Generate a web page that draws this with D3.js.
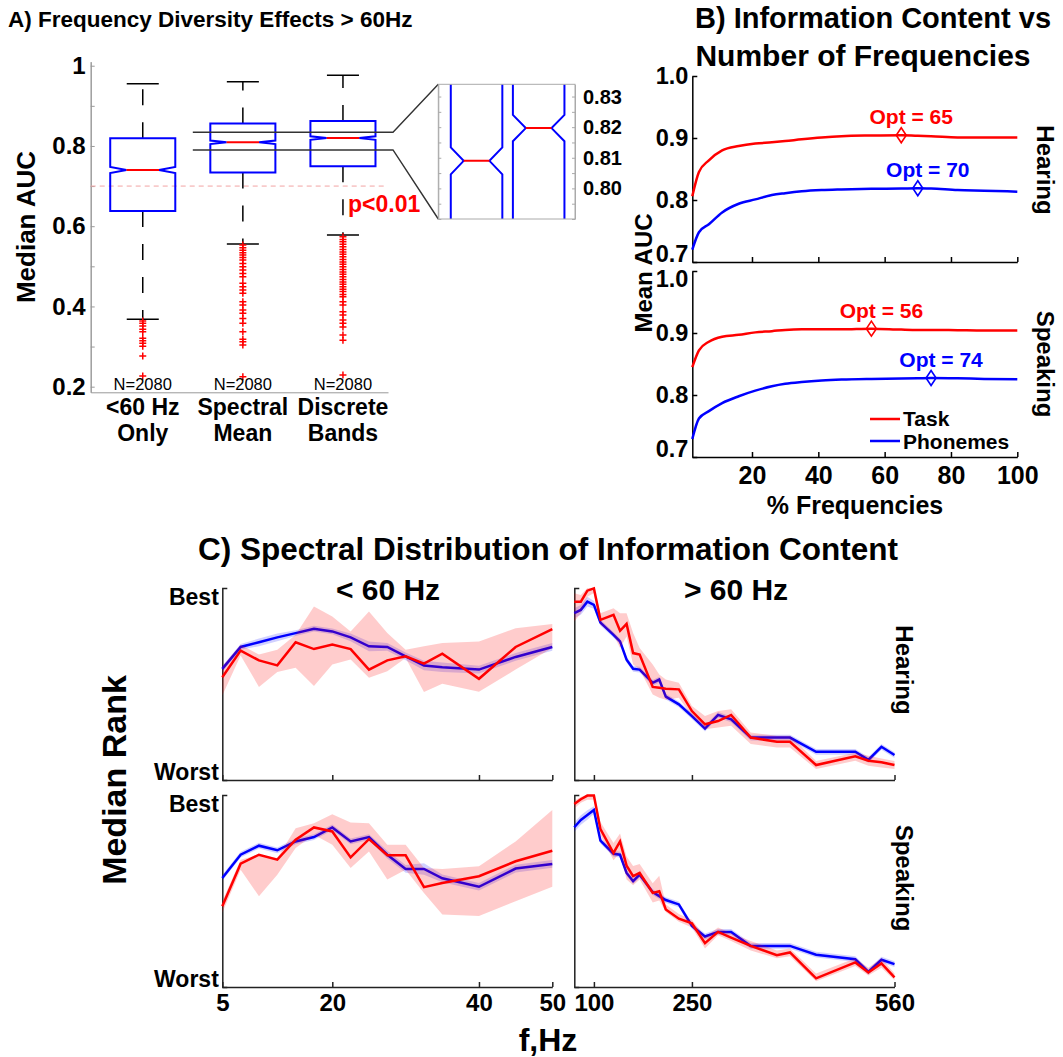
<!DOCTYPE html>
<html>
<head>
<meta charset="utf-8">
<script src="https://cdn.jsdelivr.net/npm/d3@7"></script>
<style>
  body { margin: 0; background: #fff; }
  svg { display: block; }
  text { font-family: "Liberation Sans", Arial, Helvetica, sans-serif; font-weight: bold; fill: #000; }
</style>
</head>
<body>
<svg id="fig" width="1063" height="1057"></svg>
<script>
// ---------------- Panel A: box plots of median AUC ----------------
const boxCategories = [["<60 Hz", "Only"], ["Spectral", "Mean"], ["Discrete", "Bands"]];
const boxCounts = [2080, 2080, 2080];
const boxUpperWhisker = [0.955, 0.960, 0.976];
const boxQ3 = [0.819, 0.856, 0.8625];
const boxMedian = [0.740, 0.809, 0.8197];
const boxQ1 = [0.6376, 0.734, 0.7497];
const boxLowerWhisker = [0.368, 0.5554, 0.578];
const boxNotch = [0.0075, 0.0044, 0.0043];
const outliersLow = [0.364, 0.358, 0.351, 0.343, 0.337, 0.3205, 0.3146, 0.308, 0.301, 0.2765, 0.2267];
const outliersSpectral = [0.553, 0.546, 0.540, 0.534, 0.528, 0.522, 0.5156, 0.507, 0.499, 0.4907, 0.4824, 0.474,
  0.4575, 0.449, 0.441, 0.4326, 0.4117, 0.4035, 0.391, 0.3828, 0.370, 0.358, 0.337, 0.318, 0.312, 0.3037, 0.225];
const outliersBands = [0.5736, 0.567, 0.561, 0.555, 0.549, 0.542, 0.536, 0.530, 0.524, 0.517, 0.511, 0.505, 0.499,
  0.492, 0.486, 0.480, 0.474, 0.467, 0.461, 0.455, 0.449, 0.443, 0.437, 0.430, 0.424, 0.412, 0.4035, 0.387,
  0.3786, 0.366, 0.358, 0.349, 0.329, 0.316, 0.229];
const aucTicks = [0.2, 0.4, 0.6, 0.8, 1.0];
const aucMinorTicks = [0.3, 0.5, 0.7, 0.9];
const chanceAUC = 0.7;
const zoomRange = [0.79, 0.834];
const zoomTickLabels = [0.80, 0.81, 0.82, 0.83];
const sigText = "p<0.01";

// ---------------- Panel B: information content vs % frequencies ----------------
const pct = [2, 4, 7, 11, 16, 21, 26, 30, 35, 41, 47, 56, 65, 70, 74, 82, 90, 100];
const hearTask = [0.806, 0.845, 0.864, 0.880, 0.887, 0.891, 0.893, 0.895, 0.898, 0.901, 0.903, 0.904, 0.9045, 0.9035, 0.903, 0.901, 0.901, 0.901];
const hearPhon = [0.720, 0.748, 0.761, 0.780, 0.794, 0.801, 0.808, 0.811, 0.814, 0.816, 0.817, 0.818, 0.8185, 0.819, 0.8185, 0.816, 0.815, 0.8135];
const speakTask = [0.845, 0.872, 0.886, 0.894, 0.897, 0.901, 0.903, 0.905, 0.906, 0.906, 0.906, 0.907, 0.9055, 0.905, 0.905, 0.9045, 0.904, 0.904];
const speakPhon = [0.729, 0.762, 0.774, 0.787, 0.798, 0.807, 0.814, 0.818, 0.821, 0.8235, 0.825, 0.826, 0.8265, 0.827, 0.8275, 0.827, 0.826, 0.8255];
const optHearing = [65, 70];
const optSpeaking = [56, 74];
const aucTicksB = [0.7, 0.8, 0.9, 1.0];
const pctTicks = [20, 40, 60, 80, 100];
const legendLabels = ["Task", "Phonemes"];

// ---------------- Panel C: spectral distribution of median rank ----------------
const freqLow = [5, 7.5, 10, 12.5, 15, 17.5, 20, 22.5, 25, 27.5, 30, 32.5, 35, 40, 45, 50];
const hearLowTask = [0.535, 0.674, 0.623, 0.597, 0.717, 0.682, 0.705, 0.682, 0.575, 0.623, 0.644, 0.606, 0.658, 0.527, 0.693, 0.786];
const hearLowTaskLo = [0.440, 0.648, 0.485, 0.563, 0.584, 0.489, 0.601, 0.627, 0.532, 0.566, 0.636, 0.458, 0.501, 0.459, 0.575, 0.687];
const hearLowTaskHi = [0.592, 0.705, 0.653, 0.679, 0.756, 0.903, 0.851, 0.774, 0.877, 0.765, 0.679, 0.696, 0.713, 0.722, 0.791, 0.813];
const hearLowPhon = [0.579, 0.693, 0.717, 0.743, 0.765, 0.788, 0.774, 0.743, 0.696, 0.693, 0.644, 0.596, 0.587, 0.575, 0.641, 0.693];
const hearLowPhonErr = [0.015, 0.015, 0.02, 0.02, 0.015, 0.015, 0.015, 0.02, 0.025, 0.02, 0.02, 0.025, 0.025, 0.02, 0.02, 0.02];
const speakLowTask = [0.421, 0.642, 0.689, 0.663, 0.767, 0.831, 0.810, 0.675, 0.770, 0.686, 0.686, 0.520, 0.542, 0.577, 0.655, 0.710];
const speakLowTaskLo = [0.387, 0.611, 0.473, 0.585, 0.724, 0.793, 0.741, 0.620, 0.706, 0.560, 0.611, 0.490, 0.378, 0.370, 0.447, 0.522];
const speakLowTaskHi = [0.447, 0.663, 0.689, 0.672, 0.827, 0.853, 0.900, 0.857, 0.853, 0.741, 0.741, 0.620, 0.615, 0.629, 0.758, 0.922];
const speakLowPhon = [0.568, 0.689, 0.736, 0.712, 0.758, 0.781, 0.831, 0.758, 0.781, 0.689, 0.615, 0.615, 0.566, 0.522, 0.617, 0.641];
const speakLowPhonErr = [0.015, 0.015, 0.015, 0.015, 0.015, 0.015, 0.015, 0.015, 0.015, 0.02, 0.02, 0.03, 0.02, 0.02, 0.02, 0.02];

const freqHigh = [70, 80, 90, 100, 110, 130, 140, 150, 160, 170, 190, 200, 210, 230, 250, 270, 290, 310, 340, 380, 400, 440, 500, 520, 540, 560];
const hearHighTask = [0.929, 0.929, 0.986, 0.998, 0.834, 0.860, 0.777, 0.813, 0.661, 0.653, 0.485, 0.480, 0.475, 0.472, 0.359, 0.290, 0.307, 0.339, 0.221, 0.199, 0.199, 0.078, 0.123, 0.100, 0.092, 0.078];
const hearHighTaskLo = [0.826, 0.869, 0.955, 0.974, 0.808, 0.756, 0.687, 0.748, 0.601, 0.575, 0.445, 0.428, 0.418, 0.428, 0.333, 0.264, 0.273, 0.282, 0.187, 0.169, 0.169, 0.057, 0.100, 0.074, 0.065, 0.057];
const hearHighTaskHi = [0.973, 0.964, 1.0, 1.0, 0.868, 0.895, 0.869, 0.869, 0.765, 0.687, 0.601, 0.549, 0.523, 0.506, 0.385, 0.333, 0.359, 0.368, 0.247, 0.230, 0.230, 0.099, 0.142, 0.126, 0.112, 0.099];
const hearHighPhon = [0.869, 0.886, 0.929, 0.912, 0.820, 0.756, 0.722, 0.627, 0.579, 0.575, 0.506, 0.523, 0.434, 0.394, 0.333, 0.268, 0.339, 0.316, 0.221, 0.221, 0.221, 0.147, 0.147, 0.105, 0.173, 0.130];
const hearHighPhonErr = [0.025, 0.025, 0.025, 0.02, 0.015, 0.015, 0.015, 0.015, 0.015, 0.015, 0.015, 0.015, 0.015, 0.015, 0.015, 0.015, 0.015, 0.015, 0.015, 0.015, 0.015, 0.015, 0.015, 0.015, 0.015, 0.015];
const speakHighTask = [0.953, 0.978, 0.997, 0.997, 0.822, 0.698, 0.758, 0.632, 0.577, 0.594, 0.490, 0.499, 0.404, 0.356, 0.332, 0.228, 0.287, 0.257, 0.214, 0.166, 0.180, 0.045, 0.128, 0.076, 0.123, 0.050];
const speakHighTaskLo = [0.93, 0.96, 0.975, 0.975, 0.79, 0.66, 0.70, 0.56, 0.53, 0.56, 0.44, 0.45, 0.39, 0.34, 0.31, 0.20, 0.27, 0.24, 0.19, 0.15, 0.16, 0.03, 0.11, 0.06, 0.10, 0.035];
const speakHighTaskHi = [0.97, 0.99, 1.0, 1.0, 0.86, 0.75, 0.80, 0.68, 0.63, 0.64, 0.54, 0.58, 0.43, 0.38, 0.35, 0.26, 0.31, 0.28, 0.24, 0.19, 0.20, 0.07, 0.15, 0.10, 0.15, 0.07];
const speakHighPhon = [0.832, 0.870, 0.896, 0.922, 0.762, 0.694, 0.689, 0.594, 0.551, 0.585, 0.494, 0.473, 0.453, 0.430, 0.318, 0.263, 0.287, 0.287, 0.214, 0.214, 0.214, 0.168, 0.145, 0.079, 0.142, 0.119];
const speakHighPhonErr = [0.025, 0.025, 0.025, 0.02, 0.015, 0.015, 0.015, 0.015, 0.015, 0.015, 0.015, 0.015, 0.015, 0.015, 0.015, 0.015, 0.015, 0.015, 0.015, 0.015, 0.015, 0.015, 0.015, 0.015, 0.015, 0.015];
const freqTicksLow = [5, 20, 40, 50];
const freqTicksHigh = [100, 250, 560];
const rankTickValues = [0.04, 0.95];
const rankTickLabels = ["Worst", "Best"];

// ---------------- drawing ----------------
const RED = "#ff0000", BLUE = "#0000ff";
const svg = d3.select("#fig");

function label(g, x, y, s, size, opt = {}) {
  const t = g.append("text").attr("x", x).attr("y", y).attr("font-size", size).text(s);
  if (opt.anchor) t.attr("text-anchor", opt.anchor);
  if (opt.fill) t.style("fill", opt.fill);
  if (opt.weight) t.style("font-weight", opt.weight);
  return t;
}
function rotLabel(g, cx, cy, angle, s, size) {
  return g.append("text").attr("transform", `translate(${cx},${cy}) rotate(${angle})`)
    .attr("text-anchor", "middle").attr("dy", "0.35em").attr("font-size", size).text(s);
}
function styleAxis(ax, color, width, size) {
  ax.select(".domain").attr("stroke", color).attr("stroke-width", width);
  ax.selectAll(".tick line").attr("stroke", color).attr("stroke-width", width);
  ax.selectAll(".tick text").attr("font-size", size).style("fill", "#000");
}

// ===== Panel A =====
const gA = svg.append("g");
const xA = d3.scaleLinear().domain([0.48, 3.45]).range([90.7, 388]);
const yA = d3.scaleLinear().domain([0.186, 1.01]).range([392.3, 61.7]);
const boxHalf = 0.325, capHalf = 0.16;
const outlierSets = [outliersLow, outliersSpectral, outliersBands];

label(gA, 8, 27, "A) Frequency Diversity Effects > 60Hz", 22.5);
rotLabel(gA, 26, 227, -90, "Median AUC", 26);

const axA = gA.append("g").attr("transform", `translate(${xA.range()[0]},0)`)
  .call(d3.axisLeft(yA).tickValues(aucTicks).tickFormat(d => d === 1 ? "1" : d.toFixed(1))
    .tickSizeInner(-4).tickSizeOuter(0).tickPadding(5));
styleAxis(axA, "#999", 1, 24);
const axAminor = gA.append("g").attr("transform", `translate(${xA.range()[0]},0)`)
  .call(d3.axisLeft(yA).tickValues(aucMinorTicks).tickFormat("").tickSizeInner(-4).tickSizeOuter(0));
styleAxis(axAminor, "#999", 1, 10);
const axAx = gA.append("g").attr("transform", `translate(0,${yA.range()[0]})`)
  .call(d3.axisBottom(xA).tickValues([]).tickSizeOuter(0));
styleAxis(axAx, "#999", 1, 10);

// chance-level reference
gA.append("line").attr("x1", xA.range()[0]).attr("x2", xA(3.42))
  .attr("y1", yA(chanceAUC)).attr("y2", yA(chanceAUC))
  .attr("stroke", "#f2a3a3").attr("stroke-width", 1).attr("stroke-dasharray", "5,4");

function boxPath(cx, w, q1, q3, med, n) {
  return `M${cx - w},${q3}L${cx + w},${q3}L${cx + w},${med - n}L${cx + w / 2},${med}L${cx + w},${med + n}` +
    `L${cx + w},${q1}L${cx - w},${q1}L${cx - w},${med + n}L${cx - w / 2},${med}L${cx - w},${med - n}Z`;
}
const plus = "M-3.5,0H3.5M0,-3.5V3.5";

boxCategories.forEach((cat, i) => {
  const pos = i + 1;
  const cx = xA(pos), w = xA(pos + boxHalf) - cx, cw = xA(pos + capHalf) - cx;
  // whiskers, dashed from the box outward
  gA.append("line").attr("x1", cx).attr("x2", cx).attr("y1", yA(boxQ3[i])).attr("y2", yA(boxUpperWhisker[i]))
    .attr("stroke", "#000").attr("stroke-width", 1.5).attr("stroke-dasharray", "16,17");
  gA.append("line").attr("x1", cx).attr("x2", cx).attr("y1", yA(boxQ1[i])).attr("y2", yA(boxLowerWhisker[i]))
    .attr("stroke", "#000").attr("stroke-width", 1.5).attr("stroke-dasharray", "16,17");
  [boxUpperWhisker[i], boxLowerWhisker[i]].forEach(v => {
    gA.append("line").attr("x1", cx - cw).attr("x2", cx + cw).attr("y1", yA(v)).attr("y2", yA(v))
      .attr("stroke", "#000").attr("stroke-width", 1.5);
  });
  gA.append("path").attr("d", boxPath(cx, w, yA(boxQ1[i]), yA(boxQ3[i]), yA(boxMedian[i]),
      yA(boxMedian[i] - boxNotch[i]) - yA(boxMedian[i])))
    .attr("fill", "none").attr("stroke", BLUE).attr("stroke-width", 2);
  gA.append("line").attr("x1", cx - w / 2).attr("x2", cx + w / 2).attr("y1", yA(boxMedian[i])).attr("y2", yA(boxMedian[i]))
    .attr("stroke", RED).attr("stroke-width", 2);
  gA.selectAll(null).data(outlierSets[i]).join("path")
    .attr("transform", d => `translate(${cx},${yA(d)})`).attr("d", plus)
    .attr("stroke", RED).attr("stroke-width", 1.5).attr("fill", "none");
  label(gA, cx, 390, "N=" + boxCounts[i], 16.5, { anchor: "middle", weight: "normal" });
  label(gA, cx, 415, cat[0], 23, { anchor: "middle" });
  label(gA, cx, 441, cat[1], 23, { anchor: "middle" });
});
label(gA, 348, 212, sigText, 23, { fill: RED });

// zoomed view of the two high-frequency medians
const xI = d3.scaleLinear().domain([1.384, 3.585]).range([438.3, 575]);
const yI = d3.scaleLinear().domain(zoomRange).range([219, 84.3]);
const insetHalf = 0.415;
svg.append("clipPath").attr("id", "insetClip").append("rect")
  .attr("x", xI.range()[0]).attr("y", yI.range()[1]).attr("width", xI.range()[1] - xI.range()[0]).attr("height", yI.range()[0] - yI.range()[1]);
const gI = gA.append("g");
[zoomRange[1], zoomRange[0]].forEach(v => {
  gI.append("path").attr("d", `M${xA(1.5)},${yA(v)}H${xA(3.5)}L${xI.range()[0]},${yI(v)}`)
    .attr("fill", "none").attr("stroke", "#333").attr("stroke-width", 1.4);
});
const gIc = gI.append("g").attr("clip-path", "url(#insetClip)");
boxCategories.forEach((cat, i) => {
  const pos = i + 1;
  if (pos - insetHalf < xI.domain()[0]) return;
  const cx = xI(pos), w = xI(pos + insetHalf) - cx;
  gIc.append("path").attr("d", boxPath(cx, w, yI(boxQ1[i]), yI(boxQ3[i]), yI(boxMedian[i]),
      yI(boxMedian[i] - boxNotch[i]) - yI(boxMedian[i])))
    .attr("fill", "none").attr("stroke", BLUE).attr("stroke-width", 2);
  gIc.append("line").attr("x1", cx - w / 2).attr("x2", cx + w / 2).attr("y1", yI(boxMedian[i])).attr("y2", yI(boxMedian[i]))
    .attr("stroke", RED).attr("stroke-width", 2);
});
const minorI = d3.range(0.790, 0.8341, 0.005);
const axIL = gI.append("g").attr("transform", `translate(${xI.range()[0]},0)`)
  .call(d3.axisLeft(yI).tickValues(minorI).tickFormat("").tickSizeInner(-3).tickSizeOuter(0));
styleAxis(axIL, "#aaa", 1, 10);
const axIR = gI.append("g").attr("transform", `translate(${xI.range()[1]},0)`)
  .call(d3.axisRight(yI).tickValues(minorI).tickFormat("").tickSizeInner(-3).tickSizeOuter(0));
styleAxis(axIR, "#aaa", 1, 10);
gI.append("rect").attr("x", xI.range()[0]).attr("y", yI.range()[1])
  .attr("width", xI.range()[1] - xI.range()[0]).attr("height", yI.range()[0] - yI.range()[1])
  .attr("fill", "none").attr("stroke", "#aaa").attr("stroke-width", 1);
zoomTickLabels.forEach(v => label(gI, 583, yI(v) + 7, v.toFixed(2), 20));

// ===== Panel B =====
const gB = svg.append("g");
label(gB, 873, 28, "B) Information Content vs", 29, { anchor: "middle" });
label(gB, 863, 66, "Number of Frequencies", 30, { anchor: "middle" });
rotLabel(gB, 644, 273, -90, "Mean AUC", 24);
label(gB, 855, 514, "% Frequencies", 25, { anchor: "middle" });

const xB = d3.scaleLinear().domain([2, 100]).range([692.3, 1017.3]);
const bRows = [
  { top: 76, bottom: 262, task: hearTask, phon: hearPhon, opt: optHearing, name: "Hearing", nameY: 170, showX: false },
  { top: 271, bottom: 457, task: speakTask, phon: speakPhon, opt: optSpeaking, name: "Speaking", nameY: 364, showX: true }
];
const diamond = "M0,-7.5L5,0L0,7.5L-5,0Z";
bRows.forEach((r, ri) => {
  const y = d3.scaleLinear().domain([0.7, 1.0]).range([r.bottom, r.top]);
  const ay = gB.append("g").attr("transform", `translate(${xB.range()[0]},0)`)
    .call(d3.axisLeft(y).tickValues(aucTicksB).tickFormat(d3.format(".1f")).tickSizeInner(-5).tickSizeOuter(0).tickPadding(4));
  styleAxis(ay, "#000", 1.5, 23.5);
  // edge labels nudged inward so the stacked axes do not collide
  ay.selectAll(".tick text").attr("transform", d =>
    d === 0.7 ? "translate(0,-8)" : (d === 1.0 && ri > 0 ? "translate(0,8)" : null));
  const ax = gB.append("g").attr("transform", `translate(0,${r.bottom})`)
    .call(d3.axisBottom(xB).tickValues(pctTicks).tickFormat(r.showX ? d3.format("d") : () => "")
      .tickSizeInner(-5).tickSizeOuter(0).tickPadding(9));
  styleAxis(ax, "#000", 1.5, 25);
  const line = d3.line().x((d, i) => xB(pct[i])).y(d => y(d)).curve(d3.curveMonotoneX);
  [[r.task, RED, r.opt[0]], [r.phon, BLUE, r.opt[1]]].forEach(([vals, col, opt]) => {
    gB.append("path").attr("d", line(vals)).attr("fill", "none").attr("stroke", col).attr("stroke-width", 2.5);
    const v = vals[pct.indexOf(opt)];
    gB.append("path").attr("d", diamond).attr("transform", `translate(${xB(opt)},${y(v)})`)
      .attr("fill", "none").attr("stroke", col).attr("stroke-width", 1.6);
    label(gB, xB(opt) + 10, y(v) - 11, `Opt = ${opt}`, 21, { anchor: "middle", fill: col });
  });
  rotLabel(gB, 1045, r.nameY, 90, r.name, 24);
});
// legend
[[RED, legendLabels[0], 419, 426], [BLUE, legendLabels[1], 441, 449]].forEach(([col, s, ly, ty]) => {
  gB.append("line").attr("x1", 870).attr("x2", 900).attr("y1", ly).attr("y2", ly).attr("stroke", col).attr("stroke-width", 2.5);
  label(gB, 903, ty, s, 21);
});

// ===== Panel C =====
const gC = svg.append("g");
label(gC, 548, 560, "C) Spectral Distribution of Information Content", 31.5, { anchor: "middle" });
label(gC, 388, 600, "< 60 Hz", 30, { anchor: "middle" });
label(gC, 736, 600, "> 60 Hz", 30, { anchor: "middle" });
rotLabel(gC, 114, 780, -90, "Median Rank", 34);
label(gC, 548, 1051, "f,Hz", 32, { anchor: "middle" });

const xL = d3.scaleLinear().domain([5, 50]).range([222.3, 552.3]);
const xR = d3.scaleLinear().domain([70, 560]).range([574.3, 894.5]);
const cRows = [
  { top: 588, bottom: 780, name: "Hearing", nameY: 670, showX: false,
    low: [hearLowTask, hearLowTaskLo, hearLowTaskHi, hearLowPhon, hearLowPhonErr],
    high: [hearHighTask, hearHighTaskLo, hearHighTaskHi, hearHighPhon, hearHighPhonErr] },
  { top: 795, bottom: 987, name: "Speaking", nameY: 878, showX: true,
    low: [speakLowTask, speakLowTaskLo, speakLowTaskHi, speakLowPhon, speakLowPhonErr],
    high: [speakHighTask, speakHighTaskLo, speakHighTaskHi, speakHighPhon, speakHighPhonErr] }
];
const AX = "#222";
cRows.forEach(r => {
  const y = d3.scaleLinear().domain([0, 1]).range([r.bottom, r.top]);
  [[xL, freqLow, freqTicksLow, r.low, true], [xR, freqHigh, freqTicksHigh, r.high, false]].forEach(([x, f, ticks, s, showY]) => {
    const [task, lo, hi, phon, err] = s;
    const ay = gC.append("g").attr("transform", `translate(${x.range()[0]},0)`)
      .call(d3.axisLeft(y).tickValues(rankTickValues).tickFormat((d, i) => showY ? rankTickLabels[i] : "")
        .tickSizeInner(0).tickSizeOuter(-5).tickPadding(3.5));
    styleAxis(ay, AX, 1.5, 23);
    const ax = gC.append("g").attr("transform", `translate(0,${r.bottom})`)
      .call(d3.axisBottom(x).tickValues(ticks).tickFormat(r.showX ? d3.format("d") : () => "")
        .tickSizeInner(-5).tickSizeOuter(0).tickPadding(7));
    styleAxis(ax, AX, 1.5, 24);
    const area = d3.area().x((d, i) => x(f[i]));
    const line = d3.line().x((d, i) => x(f[i])).y(d => y(d));
    gC.append("path").attr("d", area.y0((d, i) => y(d - err[i])).y1((d, i) => y(d + err[i]))(phon))
      .attr("fill", BLUE).attr("fill-opacity", 0.18);
    gC.append("path").attr("d", line(phon)).attr("fill", "none").attr("stroke", BLUE).attr("stroke-width", 2.5);
    gC.append("path").attr("d", area.y0((d, i) => y(lo[i])).y1((d, i) => y(hi[i]))(task))
      .attr("fill", RED).attr("fill-opacity", 0.2);
    gC.append("path").attr("d", line(task)).attr("fill", "none").attr("stroke", RED).attr("stroke-width", 2.5);
  });
  rotLabel(gC, 904, r.nameY, 90, r.name, 24);
});
</script>
</body>
</html>
